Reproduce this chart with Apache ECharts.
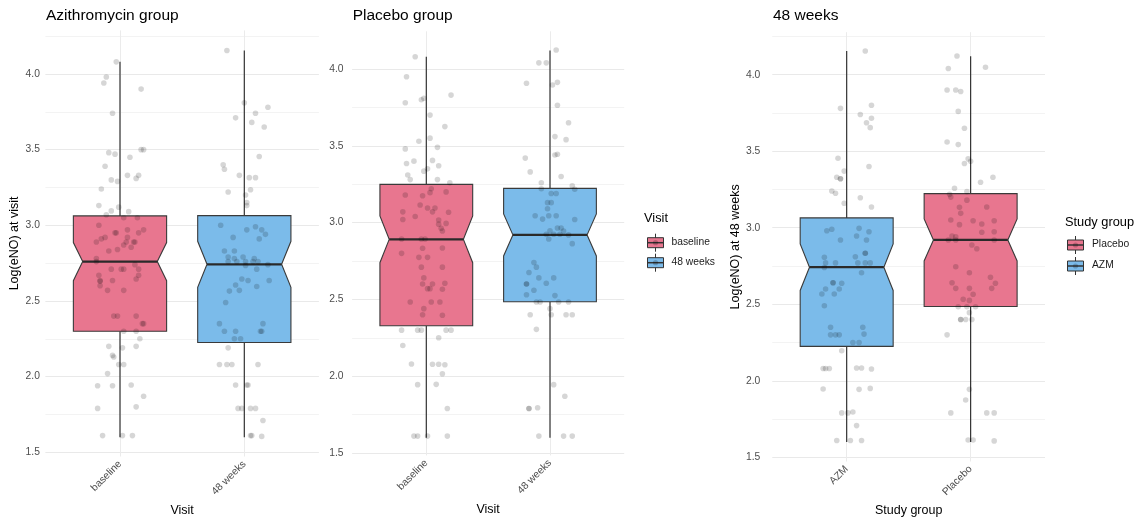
<!DOCTYPE html>
<html><head><meta charset="utf-8">
<script src="https://cdn.jsdelivr.net/npm/echarts@6/dist/echarts.min.js"></script>
<style>html,body{margin:0;padding:0;background:#fff}#c{width:1143px;height:525px}</style>
</head><body><div id="c"></div>
<script>
// ---------- text ----------
const panelTitles = ['Azithromycin group', 'Placebo group', '48 weeks'];
const panelCats = [['baseline', '48 weeks'], ['baseline', '48 weeks'], ['AZM', 'Placebo']];
const xTitles = ['Visit', 'Visit', 'Study group'];
const yTitles = ['Log(eNO) at visit', '', 'Log(eNO) at 48 weeks'];
const yTickLabels = [1.5, 2.0, 2.5, 3.0, 3.5, 4.0];
const yMinorTicks = [1.75, 2.25, 2.75, 3.25, 3.75, 4.25];
const legendTitles = ['Visit', 'Study group'];
const legendLabels = [['baseline', '48 weeks'], ['Placebo', 'AZM']];

// ---------- box statistics: [low, q1, notchLow, median, notchHigh, q3, high] ----------
const azmBaselineBox = [1.60, 2.300, 2.634, 2.760, 2.886, 3.062, 4.08];
const azmWeek48Box   = [1.60, 2.225, 2.590, 2.742, 2.894, 3.064, 4.155];
const plcBaselineBox = [1.60, 2.329, 2.739, 2.891, 3.043, 3.249, 4.08];
const plcWeek48Box   = [1.60, 2.485, 2.783, 2.920, 3.057, 3.223, 4.12];

// ---------- jittered points: [horizontal jitter (category units), value] ----------
const p1Baseline = [[-0.03,4.08],[-0.11,3.98],[-0.13,3.94],[0.17,3.90],[-0.06,3.74],[-0.09,3.48],[-0.04,3.47],[0.17,3.50],[0.19,3.50],[0.08,3.45],[-0.12,3.39],[-0.07,3.30],[-0.02,3.29],[0.06,3.33],[0.15,3.33],[0.13,3.31],[-0.15,3.24],[-0.17,3.13],[-0.01,3.12],[-0.07,3.095],[0.07,3.09],[-0.11,3.07],[0.03,3.05],[0.14,3.05],[-0.17,3.00],[0.19,2.97],[0.06,2.97],[-0.04,2.95],[-0.03,2.95],[0.15,2.95],[-0.19,2.89],[-0.15,2.91],[-0.12,2.92],[0.06,2.92],[0.11,2.89],[0.12,2.89],[0.05,2.89],[0.03,2.87],[-0.09,2.83],[-0.02,2.84],[0.09,2.855],[-0.19,2.78],[-0.19,2.76],[-0.17,2.67],[-0.16,2.635],[-0.16,2.63],[-0.16,2.60],[-0.06,2.635],[-0.10,2.57],[-0.07,2.71],[0.01,2.71],[0.03,2.71],[0.12,2.74],[0.15,2.71],[0.15,2.67],[0.13,2.645],[0.03,2.57],[-0.05,2.40],[-0.02,2.40],[0.13,2.40],[0.19,2.35],[0.18,2.35],[0.03,2.30],[0.13,2.30],[0.16,2.25],[-0.09,2.20],[0.02,2.19],[0.13,2.20],[-0.06,2.14],[-0.05,2.13],[-0.01,2.08],[0.03,2.08],[-0.10,2.02],[-0.18,1.94],[-0.06,1.94],[0.09,1.945],[0.19,1.87],[-0.18,1.79],[0.13,1.80],[-0.14,1.61],[0.02,1.61],[0.10,1.61]];
const p1Week48 = [[-0.14,4.155],[0,3.81],[0.19,3.78],[0.09,3.74],[-0.07,3.71],[0.06,3.68],[0.16,3.65],[0.12,3.455],[-0.17,3.40],[-0.16,3.37],[-0.04,3.33],[0.04,3.315],[0.09,3.315],[-0.13,3.22],[0.05,3.235],[0.01,3.20],[0.02,3.15],[0.02,3.13],[-0.19,3.00],[0.02,2.97],[0.09,2.99],[0.14,2.97],[0.17,2.94],[-0.09,2.92],[0.12,2.91],[-0.16,2.83],[-0.08,2.83],[-0.13,2.79],[-0.01,2.79],[-0.08,2.78],[0.08,2.78],[-0.13,2.76],[-0.06,2.76],[0.01,2.76],[0.07,2.76],[0.11,2.76],[0.01,2.735],[0.19,2.74],[0.10,2.71],[-0.02,2.645],[0.03,2.635],[0.20,2.635],[-0.07,2.605],[0.10,2.595],[-0.12,2.565],[-0.04,2.57],[-0.15,2.49],[-0.20,2.35],[0.15,2.35],[-0.16,2.30],[-0.07,2.30],[0.13,2.30],[0.14,2.30],[-0.08,2.25],[-0.03,2.25],[-0.13,2.19],[-0.20,2.08],[-0.14,2.08],[-0.10,2.08],[0.11,2.08],[-0.07,1.945],[0.02,1.945],[0.03,1.945],[-0.05,1.79],[-0.02,1.79],[0.05,1.79],[0.09,1.79],[0.15,1.71],[0.05,1.61],[0.06,1.61],[0.14,1.605]];
const p2Baseline = [[-0.09,4.08],[-0.16,3.95],[-0.17,3.78],[-0.04,3.80],[-0.02,3.81],[0.20,3.83],[0.03,3.70],[0.15,3.625],[-0.06,3.53],[0.03,3.55],[-0.17,3.48],[0.09,3.49],[-0.16,3.385],[-0.10,3.40],[0.05,3.405],[0.10,3.37],[-0.02,3.335],[0.01,3.35],[-0.15,3.31],[-0.13,3.28],[0.09,3.28],[0.19,3.26],[0.04,3.22],[0.16,3.20],[-0.17,3.18],[-0.03,3.175],[0.03,3.195],[-0.05,3.115],[0.01,3.095],[0.07,3.095],[0.05,3.07],[0.18,3.067],[-0.19,3.07],[-0.19,3.02],[-0.09,3.04],[0.10,3.017],[0.16,2.995],[0.10,2.99],[0.12,2.963],[0.13,2.945],[-0.20,2.893],[-0.04,2.893],[-0.01,2.893],[-0.20,2.80],[-0.03,2.833],[0.13,2.835],[-0.06,2.774],[0.01,2.774],[-0.04,2.71],[0.13,2.71],[-0.02,2.64],[-0.03,2.60],[0.05,2.60],[0.15,2.605],[0.01,2.57],[0.03,2.57],[0.13,2.566],[-0.13,2.483],[0.04,2.483],[0.11,2.483],[-0.02,2.44],[-0.03,2.40],[0.13,2.397],[-0.20,2.30],[-0.07,2.30],[-0.04,2.30],[0.16,2.30],[0.20,2.30],[0.10,2.25],[-0.19,2.20],[-0.12,2.08],[0.05,2.078],[0.10,2.078],[0.15,2.075],[0.13,2.016],[-0.07,1.945],[0.08,1.947],[0.17,1.79],[-0.10,1.61],[-0.07,1.61],[0.01,1.61],[0.17,1.61]];
const p2Week48 = [[0.05,4.124],[-0.09,4.04],[-0.03,4.04],[-0.19,3.907],[0.02,3.896],[0.06,3.913],[0.06,3.764],[0.15,3.65],[0.04,3.56],[0.13,3.54],[0.06,3.445],[0.04,3.44],[-0.20,3.42],[-0.16,3.33],[0.09,3.30],[-0.07,3.26],[0.18,3.24],[0.20,3.217],[-0.07,3.22],[0.01,3.19],[0.05,3.19],[-0.02,3.13],[0.01,3.13],[-0.02,3.09],[-0.12,3.045],[-0.06,3.023],[-0.01,3.045],[0.05,3.045],[0.20,3.02],[0,2.947],[0.06,2.965],[0.09,2.965],[0.11,2.945],[-0.03,2.924],[0.03,2.924],[0.08,2.924],[0.15,2.92],[-0.01,2.893],[0.18,2.863],[-0.13,2.74],[-0.11,2.71],[-0.17,2.675],[-0.09,2.64],[0.03,2.64],[-0.03,2.605],[-0.19,2.60],[-0.19,2.60],[-0.13,2.56],[-0.19,2.53],[0.04,2.525],[-0.11,2.483],[-0.08,2.483],[0.07,2.483],[0.15,2.483],[0,2.44],[-0.16,2.40],[0.01,2.40],[0.13,2.40],[0.18,2.40],[-0.11,2.305],[0.03,1.945],[0.12,1.87],[-0.17,1.79],[-0.17,1.79],[-0.10,1.795],[-0.09,1.61],[0.11,1.61],[0.18,1.61]];
const p3Azm = [[0.15,4.155],[-0.05,3.78],[0.20,3.80],[0.11,3.74],[0.20,3.715],[0.16,3.686],[0.19,3.654],[-0.07,3.454],[0.18,3.40],[-0.02,3.37],[-0.08,3.33],[-0.05,3.32],[-0.05,3.32],[-0.12,3.24],[-0.09,3.225],[0.11,3.196],[-0.02,3.16],[0.20,3.135],[-0.16,2.98],[-0.12,2.99],[0.10,2.996],[0.18,2.974],[0.08,2.946],[-0.05,2.92],[0.16,2.92],[0.15,2.833],[0.15,2.833],[-0.18,2.807],[0.07,2.81],[-0.17,2.77],[-0.09,2.77],[0.09,2.77],[0.15,2.77],[0.19,2.77],[-0.18,2.74],[0.12,2.706],[-0.17,2.60],[-0.20,2.567],[-0.11,2.64],[-0.11,2.64],[-0.04,2.637],[-0.06,2.60],[-0.10,2.567],[-0.18,2.49],[-0.13,2.35],[0.13,2.35],[-0.13,2.30],[-0.09,2.30],[-0.06,2.30],[0.14,2.305],[0.05,2.25],[0.10,2.25],[-0.04,2.196],[-0.19,2.08],[-0.17,2.08],[-0.14,2.08],[0.08,2.083],[0.12,2.083],[0.20,2.077],[-0.19,1.946],[0.10,1.944],[0.19,1.95],[-0.04,1.79],[0.01,1.79],[0.05,1.796],[0.08,1.707],[-0.08,1.61],[0.03,1.61],[0.12,1.61]];
const p3Placebo = [[-0.11,4.122],[-0.18,4.04],[0.12,4.048],[-0.19,3.90],[-0.12,3.90],[-0.08,3.89],[-0.10,3.76],[-0.05,3.65],[-0.19,3.56],[-0.10,3.543],[-0.02,3.45],[-0.05,3.42],[0,3.434],[0.18,3.33],[0.08,3.297],[-0.13,3.258],[-0.03,3.236],[-0.17,3.218],[-0.16,3.20],[-0.03,3.18],[-0.09,3.133],[0.13,3.135],[-0.08,3.094],[-0.16,3.05],[0.02,3.046],[0.19,3.046],[-0.09,3.02],[0.09,3.024],[0.09,2.97],[0.19,2.974],[-0.15,2.946],[-0.12,2.94],[-0.18,2.92],[-0.12,2.92],[0.19,2.92],[0.01,2.887],[0.05,2.863],[-0.12,2.745],[-0.01,2.706],[0.16,2.676],[-0.15,2.64],[0.20,2.637],[-0.12,2.604],[-0.01,2.604],[0.17,2.604],[0.02,2.565],[-0.06,2.533],[-0.01,2.525],[-0.10,2.484],[-0.03,2.484],[0.04,2.484],[-0.01,2.445],[-0.08,2.40],[-0.08,2.40],[-0.04,2.40],[0.01,2.40],[-0.19,2.30],[-0.01,1.944],[-0.04,1.874],[-0.16,1.79],[0.13,1.79],[0.19,1.79],[-0.02,1.613],[0.02,1.613],[0.19,1.607]];

// ---------- panel assembly ----------
const PINK = '#e8768f', BLUE = '#7bbbea';
const panelBoxes = [[azmBaselineBox, azmWeek48Box], [plcBaselineBox, plcWeek48Box], [azmWeek48Box, plcWeek48Box]];
const panelColors = [[PINK, BLUE], [PINK, BLUE], [BLUE, PINK]];
const panelPoints = [[p1Baseline, p1Week48], [p2Baseline, p2Week48], [p3Azm, p3Placebo]];
const legendColors = [[PINK, BLUE], [PINK, BLUE]];

// layout
const grids = [
  {left: 45.4, top: 30.4, width: 273.5, height: 426.1},
  {left: 352.1, top: 31.3, width: 272.1, height: 424.1},
  {left: 772.3, top: 32.2, width: 272.7, height: 429.3}
];
const yRanges = [[1.472, 4.288], [1.4845, 4.2455], [1.4725, 4.2775]];
const yLabelMargins = [5.5, 8.5, 12];
const xNameGaps = [46.5, 47.6, 41.5];
const yNameGaps = [24.4, 0, 26.3];
const FONT = '"Liberation Sans", Arial, Helvetica, sans-serif';
const BOX_HALF = 0.375, NOTCH = 0.8;

function renderBox(params, api) {
  const x = api.value(0);
  const low = api.value(1), q1 = api.value(2), nl = api.value(3), med = api.value(4),
        nh = api.value(5), q3 = api.value(6), high = api.value(7);
  const hw = BOX_HALF, nw = BOX_HALF * NOTCH;
  const P = (dx, v) => api.coord([x + dx, v]);
  const poly = [P(-hw, q3), P(hw, q3), P(hw, nh), P(nw, med), P(hw, nl), P(hw, q1),
                P(-hw, q1), P(-hw, nl), P(-nw, med), P(-hw, nh)];
  const top = P(0, high), bq3 = P(0, q3), bq1 = P(0, q1), bot = P(0, low);
  const m1 = P(-nw, med), m2 = P(nw, med);
  return {type: 'group', children: [
    {type: 'line', shape: {x1: top[0], y1: top[1], x2: bq3[0], y2: bq3[1]}, style: {stroke: '#333', lineWidth: 1.2}},
    {type: 'line', shape: {x1: bq1[0], y1: bq1[1], x2: bot[0], y2: bot[1]}, style: {stroke: '#333', lineWidth: 1.2}},
    {type: 'polygon', shape: {points: poly}, style: {fill: api.visual('color'), stroke: '#3a3a3a', lineWidth: 1.1}},
    {type: 'line', shape: {x1: m1[0], y1: m1[1], x2: m2[0], y2: m2[1]}, style: {stroke: '#2a2a2a', lineWidth: 2.3}}
  ]};
}

const option = {
  animation: false,
  backgroundColor: '#ffffff',
  textStyle: {fontFamily: FONT},
  title: panelTitles.map((t, i) => ({
    text: t, left: grids[i].left + 0.6, top: 8, padding: 0,
    textStyle: {fontSize: 15.5, fontWeight: 'normal', color: '#000', fontFamily: FONT}
  })),
  grid: grids.map(g => Object.assign({containLabel: false}, g)),
  xAxis: grids.map((g, i) => ({
    type: 'value', gridIndex: i, min: 0.4, max: 2.6,
    axisLine: {show: false},
    axisTick: {show: false, customValues: [1, 2]},
    axisLabel: {
      customValues: [1, 2], rotate: 45, margin: 6,
      formatter: v => panelCats[i][Math.round(v) - 1],
      fontSize: 10.3, color: '#4d4d4d', fontFamily: FONT
    },
    splitLine: {show: true, lineStyle: {color: '#ebebeb', width: 1}},
    name: xTitles[i], nameLocation: 'middle', nameGap: xNameGaps[i],
    nameTextStyle: {fontSize: 12.5, color: '#000', fontFamily: FONT}
  })),
  yAxis: grids.map((g, i) => {
    const all = yTickLabels.concat(yMinorTicks).sort((a, b) => a - b)
      .filter(v => v >= yRanges[i][0] && v <= yRanges[i][1]);
    return {
      type: 'value', gridIndex: i, min: yRanges[i][0], max: yRanges[i][1],
      axisLine: {show: false},
      axisTick: {show: false, customValues: all},
      axisLabel: {
        customValues: yTickLabels, margin: yLabelMargins[i],
        formatter: v => v.toFixed(1), fontSize: 10.3, color: '#4d4d4d', fontFamily: FONT
      },
      splitLine: {show: true, lineStyle: {color: ['#e9e9e9', '#f3f3f3'], width: 1}},
      name: yTitles[i], nameLocation: 'middle', nameGap: yNameGaps[i],
      nameTextStyle: {fontSize: 12.5, color: '#000', fontFamily: FONT}
    };
  }),
  series: []
};

for (let i = 0; i < 3; i++) {
  option.series.push({
    type: 'custom', xAxisIndex: i, yAxisIndex: i, z: 2, silent: true,
    renderItem: renderBox,
    encode: {x: 0, y: [1, 2, 3, 4, 5, 6, 7]},
    data: panelBoxes[i].map((b, k) => ({value: [k + 1].concat(b), itemStyle: {color: panelColors[i][k]}}))
  });
  for (let k = 0; k < 2; k++) {
    option.series.push({
      type: 'scatter', xAxisIndex: i, yAxisIndex: i, z: 4, silent: true,
      symbolSize: 5.6,
      itemStyle: {color: 'rgba(0,0,0,0.2)', borderWidth: 0},
      data: panelPoints[i][k].map(p => [k + 1 + p[0], p[1]])
    });
  }
}

// legends (ggplot-style boxplot keys)
const legendPos = [
  {titleX: 644, titleY: 219.5, keyX: 655.5, keyY: [242.7, 262.7], labelX: 671.5},
  {titleX: 1065, titleY: 223.3, keyX: 1075.5, keyY: [245, 266], labelX: 1092}
];
const graphics = [];
legendPos.forEach((L, j) => {
  graphics.push({type: 'text', left: L.titleX, top: L.titleY - 7.5,
    style: {text: legendTitles[j], fontSize: 12.8, fill: '#000', fontFamily: FONT}});
  legendLabels[j].forEach((lab, k) => {
    const cy = L.keyY[k], cx = L.keyX;
    graphics.push({type: 'line', shape: {x1: cx, y1: cy - 9, x2: cx, y2: cy + 9}, style: {stroke: '#333', lineWidth: 1}});
    graphics.push({type: 'rect', shape: {x: cx - 8, y: cy - 5, width: 16, height: 10},
      style: {fill: legendColors[j][k], stroke: '#333', lineWidth: 1}});
    graphics.push({type: 'line', shape: {x1: cx - 8, y1: cy, x2: cx + 8, y2: cy}, style: {stroke: '#333', lineWidth: 1.5}});
    graphics.push({type: 'circle', shape: {cx: cx, cy: cy, r: 2.6}, style: {fill: 'rgba(0,0,0,0.2)'}});
    graphics.push({type: 'text', left: L.labelX, top: cy - 6,
      style: {text: lab, fontSize: 10.3, fill: '#1a1a1a', fontFamily: FONT}});
  });
});
option.graphic = graphics;

const chart = echarts.init(document.getElementById('c'), null, {renderer: 'canvas'});
chart.setOption(option);
</script>
</body></html>
